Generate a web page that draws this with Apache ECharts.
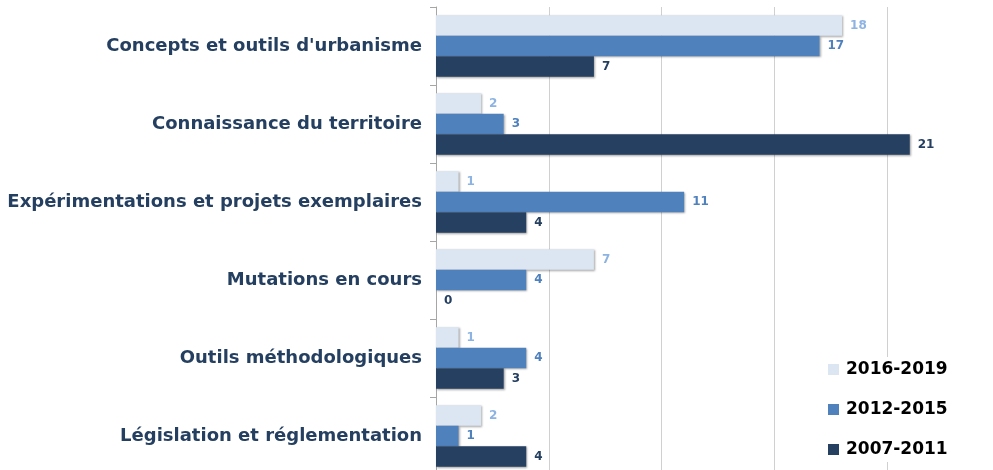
<!DOCTYPE html>
<html>
<head>
<meta charset="utf-8">
<script src="https://cdn.jsdelivr.net/npm/echarts@6/dist/echarts.min.js"></script>
<style>
  html, body { margin: 0; padding: 0; background: #fff; }
  #chart { width: 993px; height: 470px; }
</style>
</head>
<body>
<div id="chart"></div>
<script>
// categories, top to bottom
var categories = [
    'Concepts et outils d\'urbanisme',
    'Connaissance du territoire',
    'Expérimentations et projets exemplaires',
    'Mutations en cours',
    'Outils méthodologiques',
    'Législation et réglementation'
];

var periods = ['2016-2019', '2012-2015', '2007-2011'];

var v2016 = [18, 2, 1, 7, 1, 2];
var v2012 = [17, 3, 11, 4, 4, 1];
var v2007 = [7, 21, 4, 0, 3, 4];

var xTicks = [0, 5, 10, 15, 20, 25];

var barColors = ['#dce6f2', '#4f81bd', '#254061'];
var labelColors = ['#8db3e2', '#4f81bd', '#243f60'];

var myChart = echarts.init(document.getElementById('chart'));

var _series = function (name, data, i) {
    return {
        name: name,
        type: 'bar',
        data: data,
        barGap: '0%',
        barCategoryGap: '21%',
        itemStyle: {
            color: barColors[i],
            shadowColor: 'rgba(0,0,0,0.35)',
            shadowBlur: 2,
            shadowOffsetX: 1,
            shadowOffsetY: 1
        },
        label: {
            show: true,
            position: 'right',
            distance: 8,
            color: labelColors[i],
            fontWeight: 'bold',
            fontSize: 12,
            fontFamily: 'DejaVu Sans'
        }
    };
};

var option = {
    animation: false,
    grid: {
        left: 436,
        top: 7,
        width: 564,
        height: 468,
        containLabel: false,
        outerBoundsMode: 'none'
    },
    legend: {
        data: periods,
        orient: 'vertical',
        left: 828,
        top: 357,
        itemWidth: 11,
        itemHeight: 11,
        itemGap: 23,
        icon: 'rect',
        backgroundColor: '#fff',
        padding: [4, 6, 4, 0],
        textStyle: {
            color: '#000',
            fontWeight: 'bold',
            fontSize: 17,
            fontFamily: 'DejaVu Sans',
            padding: [0, 0, 0, 2]
        }
    },
    xAxis: {
        type: 'value',
        position: 'top',
        min: xTicks[0],
        max: xTicks[xTicks.length - 1],
        interval: 5,
        axisLine: { show: false },
        axisTick: { show: false },
        axisLabel: { show: true, color: '#595959', fontSize: 12, margin: 10 },
        splitLine: { show: true, lineStyle: { color: '#d0d0d0', width: 1 } }
    },
    yAxis: {
        type: 'category',
        data: categories,
        inverse: true,
        axisLine: { show: true, lineStyle: { color: '#a6a6a6' } },
        axisTick: { show: true, length: 6, lineStyle: { color: '#a6a6a6' } },
        axisLabel: {
            color: '#243f60',
            fontWeight: 'bold',
            fontSize: 18,
            fontFamily: 'DejaVu Sans',
            margin: 14
        }
    },
    series: [
        _series(periods[0], v2016, 0),
        _series(periods[1], v2012, 1),
        _series(periods[2], v2007, 2)
    ]
};

myChart.setOption(option);
</script>
</body>
</html>
